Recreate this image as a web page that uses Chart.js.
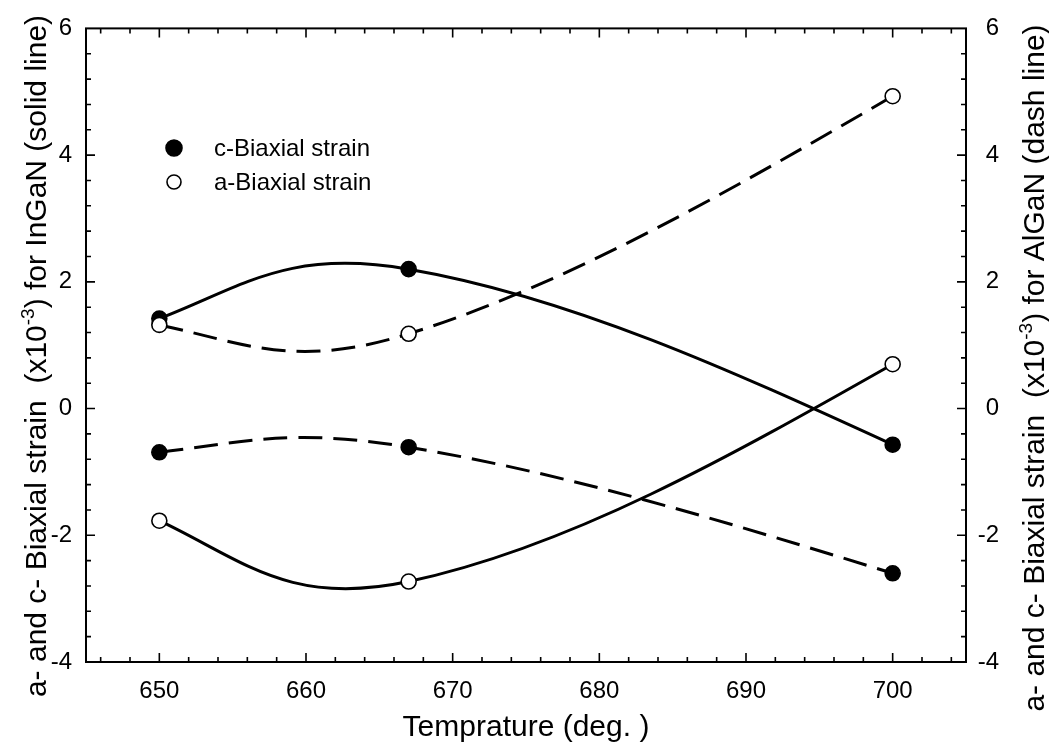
<!DOCTYPE html>
<html>
<head>
<meta charset="utf-8">
<script src="https://cdn.jsdelivr.net/npm/chart.js@4.4.0/dist/chart.umd.min.js"></script>
<style>
  html, body { margin: 0; padding: 0; background: #fff; }
  canvas { display: block; }
</style>
</head>
<body>
<canvas id="strainChart" width="1049" height="751"></canvas>
<script>
// values (x10^-3)
const temps = [650, 667, 700];
const cStrainInGaN = [1.42, 2.2, -0.57];
const aStrainInGaN = [-1.77, -2.73, 0.7];
const cStrainAlGaN = [-0.69, -0.61, -2.6];
const aStrainAlGaN = [1.32, 1.18, 4.93];
const xTickValues = [650, 660, 670, 680, 690, 700];
const yTickValues = [-4, -2, 0, 2, 4, 6];
const legendLabels = ['c-Biaxial strain', 'a-Biaxial strain'];

const FONT = "'Liberation Sans', Arial, sans-serif";
const toPoints = ys => temps.map((t, i) => ({ x: t, y: ys[i] }));

const lineDataset = (ys, filled, dashed, axis, order) => ({
  data: toPoints(ys),
  yAxisID: axis,
  order: order,
  borderColor: '#000',
  borderWidth: 3,
  borderDash: dashed ? [24, 11] : [],
  tension: 0.5,
  pointRadius: 7.5,
  pointBorderWidth: 1.6,
  pointBorderColor: '#000',
  pointBackgroundColor: filled ? '#000' : '#fff',
  fill: false
});

// spline ends: let the curve leave the end points with zero curvature
// instead of along the chord (closer to the original plotting program);
// also shorten the forward handle of inner points to a third of the gap
const naturalEnds = {
  id: 'naturalEnds',
  beforeDatasetDraw(chart, args) {
    const line = args.meta.dataset;
    const pts = args.meta.data;
    if (pts.length < 3) return;
    line.updateControlPoints(chart.chartArea, 'x');
    const slopeAt = p => (p.cp2y - p.cp1y) / (p.cp2x - p.cp1x);

    for (let i = 1; i < pts.length - 1; i++) {
      const p = pts[i];
      const m = slopeAt(p);
      const h = (pts[i + 1].x - p.x) / 3;
      p.cp2x = p.x + h;
      p.cp2y = p.y + m * h;
    }

    const p0 = pts[0], p1 = pts[1];
    let h = (p1.x - p0.x) / 3;
    let m = (3 * (p1.y - p0.y) / (p1.x - p0.x) - slopeAt(p1)) / 2;
    p0.cp2x = p0.x + h;
    p0.cp2y = p0.y + m * h;

    const pn = pts[pts.length - 1], pm = pts[pts.length - 2];
    h = (pn.x - pm.x) / 3;
    m = (3 * (pn.y - pm.y) / (pn.x - pm.x) - slopeAt(pm)) / 2;
    pn.cp1x = pn.x - h;
    pn.cp1y = pn.y - m * h;
  }
};

// inward ticks on all four sides + the box
const frameTicks = {
  id: 'frameTicks',
  beforeDatasetsDraw(chart) {
    const { ctx, chartArea: a, scales: { x, y } } = chart;
    ctx.save();
    ctx.strokeStyle = '#000';
    ctx.lineWidth = 1.6;
    ctx.beginPath();
    for (let v = 646; v <= 704; v += 2) {
      const px = x.getPixelForValue(v);
      const len = v % 10 === 0 ? 9 : 5;
      ctx.moveTo(px, a.bottom); ctx.lineTo(px, a.bottom - len);
      ctx.moveTo(px, a.top); ctx.lineTo(px, a.top + len);
    }
    for (let i = 1; i < 25; i++) {
      const py = y.getPixelForValue(-4 + i * 0.4);
      const len = i % 5 === 0 ? 9 : 5;
      ctx.moveTo(a.left, py); ctx.lineTo(a.left + len, py);
      ctx.moveTo(a.right, py); ctx.lineTo(a.right - len, py);
    }
    ctx.stroke();
    ctx.lineWidth = 2;
    ctx.strokeRect(a.left, a.top, a.right - a.left, a.bottom - a.top);
    ctx.restore();
  }
};

function drawRotatedTitle(ctx, parts, baseX, centerY) {
  ctx.save();
  ctx.translate(baseX, centerY);
  ctx.rotate(-Math.PI / 2);
  ctx.fillStyle = '#000';
  ctx.textAlign = 'left';
  ctx.textBaseline = 'alphabetic';
  const widths = parts.map(p => { ctx.font = p.font; return ctx.measureText(p.text).width; });
  let pos = -widths.reduce((s, w) => s + w, 0) / 2;
  parts.forEach((p, i) => {
    ctx.font = p.font;
    ctx.fillText(p.text, pos, -(p.rise || 0));
    pos += widths[i];
  });
  ctx.restore();
}

const titleFont = `30px ${FONT}`;
const supFont = `19px ${FONT}`;

const sideTitles = {
  id: 'sideTitles',
  afterDraw(chart) {
    const ctx = chart.ctx;
    drawRotatedTitle(ctx, [
      { text: 'a- and c- Biaxial strain  (x10', font: titleFont },
      { text: '-3', font: supFont, rise: 12 },
      { text: ') for InGaN (solid line)', font: titleFont }
    ], 46, 356);
    drawRotatedTitle(ctx, [
      { text: 'a- and c- Biaxial strain  (x10', font: titleFont },
      { text: '-3', font: supFont, rise: 12 },
      { text: ') for AlGaN (dash line)', font: titleFont }
    ], 1044, 368);
  }
};

const markerLegend = {
  id: 'markerLegend',
  afterDraw(chart) {
    const ctx = chart.ctx;
    ctx.save();
    legendLabels.forEach((label, i) => {
      const cy = 148 + i * 34;
      ctx.beginPath();
      ctx.arc(174, cy, i === 0 ? 8 : 7, 0, Math.PI * 2);
      ctx.fillStyle = i === 0 ? '#000' : '#fff';
      ctx.fill();
      ctx.lineWidth = 1.6;
      ctx.strokeStyle = '#000';
      ctx.stroke();
      ctx.fillStyle = '#000';
      ctx.font = `24px ${FONT}`;
      ctx.textBaseline = 'middle';
      ctx.fillText(label, 214, cy + 1);
    });
    ctx.restore();
  }
};

const fixedTicks = values => scale => { scale.ticks = values.map(v => ({ value: v })); };

new Chart(document.getElementById('strainChart').getContext('2d'), {
  type: 'line',
  data: {
    datasets: [
      lineDataset(aStrainAlGaN, false, true, 'y1', 0),
      lineDataset(cStrainInGaN, true, false, 'y', 1),
      lineDataset(aStrainInGaN, false, false, 'y', 2),
      lineDataset(cStrainAlGaN, true, true, 'y1', 3)
    ]
  },
  options: {
    responsive: false,
    animation: false,
    layout: { padding: { top: 28, left: 0, right: 50, bottom: 0 } },
    plugins: { legend: { display: false }, tooltip: { enabled: false } },
    scales: {
      x: {
        type: 'linear',
        min: 645,
        max: 705,
        afterBuildTicks: fixedTicks(xTickValues),
        afterFit: s => { s.height = 89; },
        grid: { display: false, drawTicks: false },
        border: { display: false },
        ticks: { color: '#000', padding: 15, font: { family: FONT, size: 24 } },
        title: {
          display: true,
          text: 'Temprature (deg. )',
          color: '#000',
          font: { family: FONT, size: 30 },
          padding: { top: 0, bottom: 5 }
        }
      },
      y: {
        position: 'left',
        min: -4,
        max: 6,
        afterBuildTicks: fixedTicks(yTickValues),
        afterFit: s => { s.width = 86; },
        grid: { display: false, drawTicks: false },
        border: { display: false },
        ticks: { color: '#000', padding: 14, font: { family: FONT, size: 24 } }
      },
      y1: {
        position: 'right',
        min: -4,
        max: 6,
        afterBuildTicks: fixedTicks(yTickValues),
        afterFit: s => { s.width = 33; },
        grid: { display: false, drawTicks: false },
        border: { display: false },
        ticks: { color: '#000', padding: 10, crossAlign: 'far', font: { family: FONT, size: 24 } }
      }
    }
  },
  plugins: [naturalEnds, frameTicks, sideTitles, markerLegend]
});
</script>
</body>
</html>
